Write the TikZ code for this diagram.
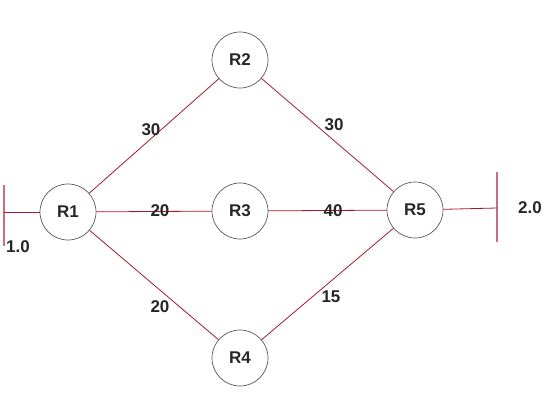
\documentclass[tikz,border=0pt]{standalone}
\usepackage{fontspec}
\setmainfont{Liberation Sans}
\begin{document}
\begin{tikzpicture}[x=1pt,y=-1pt,
  router/.style={circle,draw=black!65,line width=0.7pt,minimum size=56pt,inner sep=0pt,font=\fontsize{17}{20}\selectfont\bfseries,text=black!85},
  link/.style={draw={rgb,255:red,165;green,25;blue,45},line width=0.8pt},
  bar/.style={draw={rgb,255:red,200;green,110;blue,125},line width=1.1pt},
  lbl/.style={font=\fontsize{17}{20}\selectfont\bfseries,text=black!85,inner sep=0pt}]
\useasboundingbox (0,0) rectangle (552,410);
\node[router] (R1) at (68,212) {R1};
\node[router] (R2) at (240,60) {R2};
\node[router] (R3) at (240,211) {R3};
\node[router] (R4) at (240,358) {R4};
\node[router] (R5) at (415,210) {R5};
\coordinate (LT) at (4,185);
\coordinate (LB) at (4,246);
\coordinate (LM) at (4,212);
\coordinate (RT) at (497,172);
\coordinate (RB) at (497,242);
\coordinate (RM) at (497,208);
\draw[bar] (LT) -- (LB);
\draw[bar] (RT) -- (RB);
\draw[link] (LM) -- (R1);
\draw[link] (R5) -- (RM);
\draw[link] (R1) -- (R2);
\draw[link] (R1) -- (R3);
\draw[link] (R1) -- (R4);
\draw[link] (R2) -- (R5);
\draw[link] (R3) -- (R5);
\draw[link] (R4) -- (R5);
\node[lbl] (l12) at (151,130) {30};
\node[lbl] (l25) at (334,125) {30};
\node[lbl] (l13) at (160,211) {20};
\node[lbl] (l35) at (333,211) {40};
\node[lbl] (l14) at (160,307) {20};
\node[lbl] (l45) at (331,297) {15};
\node[lbl] (v1) at (18,247) {1.0};
\node[lbl] (v2) at (530,208) {2.0};
\end{tikzpicture}
\end{document}
